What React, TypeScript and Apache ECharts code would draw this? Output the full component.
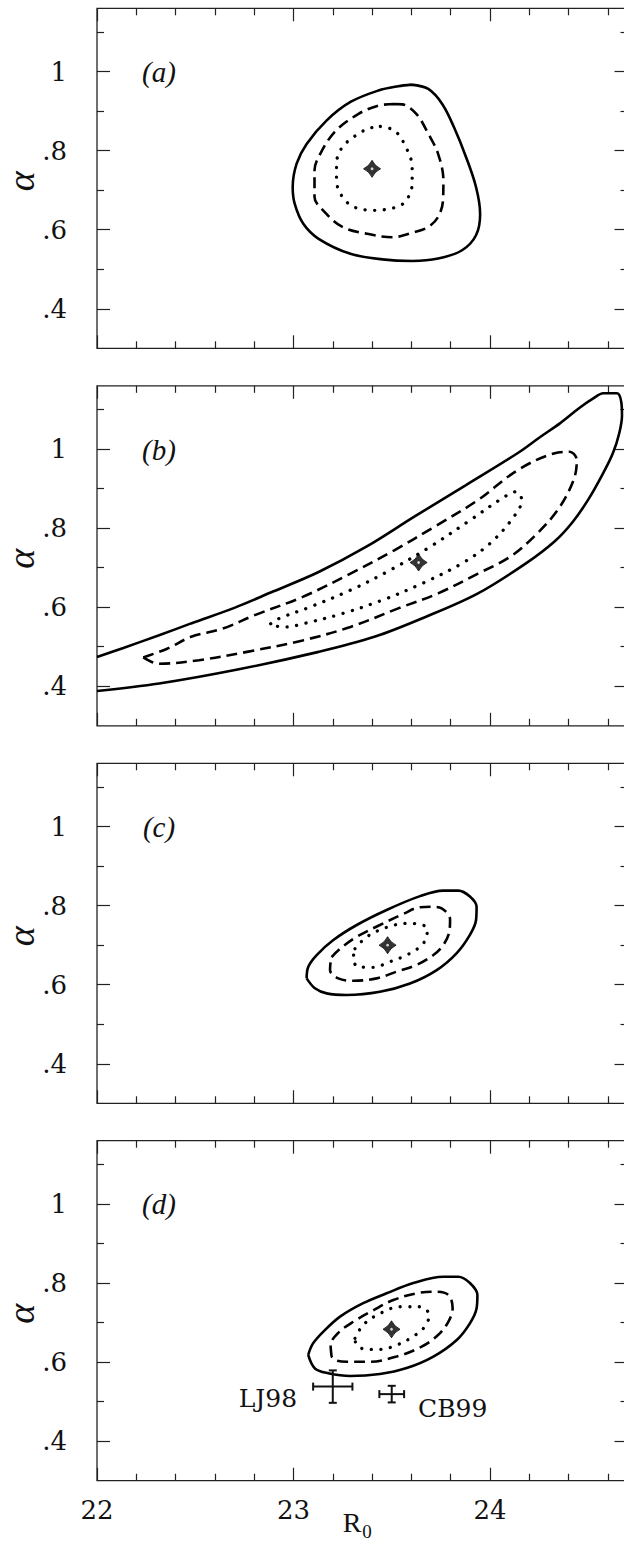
import React, { useEffect, useRef } from "react";
import * as echarts from "echarts";

// Axis ranges and tick positions shared by the four panels
const X_MIN = 22;
const X_MAX = 24.7;
const Y_MIN = 0.3;
const Y_MAX = 1.16;
const xMajorTicks = [22, 23, 24];
const xMinorTicks = [22.2, 22.4, 22.6, 22.8, 23.2, 23.4, 23.6, 23.8, 24.2, 24.4, 24.6];
const yMajorTicks = [0.4, 0.6, 0.8, 1.0];
const yMinorTicks = [0.5, 0.7, 0.9, 1.1];

const panelTags = ["(a)", "(b)", "(c)", "(d)"];

// Best-fit (R0, alpha) in each panel
const bestR0 = [23.4, 23.637, 23.479, 23.499];
const bestAlpha = [0.754, 0.713, 0.7, 0.683];

// Confidence contours, [R0, alpha] pairs, outer (solid), middle (dashed), inner (dotted)
const solidA = [
  [23.6, 0.967], [23.686, 0.956], [23.757, 0.918], [23.817, 0.859], [23.878, 0.784],
  [23.929, 0.708], [23.95, 0.64], [23.929, 0.586], [23.858, 0.548], [23.736, 0.527],
  [23.604, 0.521], [23.452, 0.525], [23.29, 0.539], [23.128, 0.577], [23.05, 0.615],
  [23.006, 0.666], [22.996, 0.708], [23.016, 0.767], [23.067, 0.817], [23.168, 0.876],
  [23.29, 0.923], [23.432, 0.952], [23.533, 0.963], [23.6, 0.967],
];
const dashedA = [
  [23.513, 0.918], [23.554, 0.917], [23.625, 0.893], [23.686, 0.843], [23.736, 0.792],
  [23.763, 0.725], [23.761, 0.674], [23.736, 0.632], [23.686, 0.607], [23.615, 0.594],
  [23.503, 0.581], [23.371, 0.59], [23.249, 0.607], [23.158, 0.645], [23.107, 0.683],
  [23.107, 0.75], [23.128, 0.784], [23.209, 0.847], [23.331, 0.893], [23.432, 0.914],
  [23.513, 0.918],
];
const dottedA = [
  [23.442, 0.861], [23.513, 0.851], [23.564, 0.817], [23.604, 0.758], [23.604, 0.716],
  [23.574, 0.674], [23.523, 0.657], [23.412, 0.649], [23.31, 0.657], [23.249, 0.683],
  [23.219, 0.725], [23.219, 0.767], [23.249, 0.809], [23.331, 0.843], [23.39, 0.857],
  [23.442, 0.861],
];

const solidB = [
  [22.0, 0.474], [22.134, 0.497], [22.316, 0.529], [22.479, 0.559], [22.702, 0.599],
  [22.884, 0.637], [23.128, 0.689], [23.371, 0.753], [23.615, 0.829], [23.878, 0.909],
  [24.142, 0.99], [24.254, 1.03], [24.356, 1.065], [24.458, 1.105], [24.526, 1.128],
  [24.577, 1.141], [24.646, 1.141], [24.668, 1.12], [24.672, 1.085], [24.658, 1.04],
  [24.626, 0.99], [24.575, 0.938], [24.5, 0.872], [24.42, 0.815], [24.33, 0.767],
  [24.183, 0.711], [23.939, 0.635], [23.675, 0.576], [23.412, 0.525], [23.128, 0.487],
  [22.722, 0.443], [22.316, 0.407], [22.0, 0.388],
];
const dashedB = [
  [22.235, 0.473], [22.357, 0.495], [22.479, 0.525], [22.641, 0.546], [22.803, 0.58],
  [23.047, 0.626], [23.29, 0.685], [23.513, 0.744], [23.716, 0.803], [23.939, 0.871],
  [24.142, 0.947], [24.325, 0.989], [24.406, 0.993], [24.442, 0.972], [24.426, 0.922],
  [24.345, 0.846], [24.223, 0.778], [24.101, 0.727], [23.939, 0.685], [23.736, 0.635],
  [23.533, 0.597], [23.29, 0.55], [23.047, 0.516], [22.763, 0.487], [22.519, 0.466],
  [22.316, 0.457], [22.276, 0.462], [22.235, 0.473],
];
const dottedB = [
  [22.884, 0.558], [22.925, 0.571], [23.087, 0.601], [23.29, 0.643], [23.493, 0.694],
  [23.696, 0.753], [23.899, 0.82], [24.061, 0.875], [24.132, 0.892], [24.162, 0.871],
  [24.122, 0.829], [24.0, 0.761], [23.858, 0.711], [23.655, 0.66], [23.453, 0.618],
  [23.25, 0.584], [23.047, 0.558], [22.966, 0.55], [22.915, 0.552], [22.884, 0.558],
];

const solidC = [
  [23.067, 0.616], [23.075, 0.645], [23.118, 0.675], [23.203, 0.713], [23.322, 0.751],
  [23.474, 0.789], [23.644, 0.824], [23.762, 0.838], [23.839, 0.838], [23.898, 0.823],
  [23.932, 0.797], [23.929, 0.763], [23.898, 0.726], [23.831, 0.68], [23.729, 0.637],
  [23.593, 0.603], [23.44, 0.582], [23.271, 0.574], [23.169, 0.578], [23.109, 0.591],
  [23.067, 0.616],
];
const dashedC = [
  [23.194, 0.67], [23.237, 0.691], [23.322, 0.721], [23.44, 0.751], [23.559, 0.779],
  [23.644, 0.796], [23.703, 0.797], [23.754, 0.793], [23.797, 0.765], [23.793, 0.734],
  [23.762, 0.7], [23.712, 0.675], [23.627, 0.65], [23.525, 0.633], [23.423, 0.616],
  [23.304, 0.61], [23.228, 0.616], [23.186, 0.637], [23.189, 0.658], [23.194, 0.67],
];
const dottedC = [
  [23.313, 0.691], [23.373, 0.721], [23.474, 0.745], [23.576, 0.755], [23.635, 0.753],
  [23.681, 0.743], [23.678, 0.721], [23.644, 0.696], [23.576, 0.675], [23.491, 0.658],
  [23.406, 0.644], [23.33, 0.645], [23.304, 0.666], [23.313, 0.691],
];

const solidD = [
  [23.075, 0.618], [23.098, 0.646], [23.152, 0.677], [23.237, 0.715], [23.355, 0.749],
  [23.474, 0.774], [23.61, 0.8], [23.762, 0.816], [23.839, 0.816], [23.898, 0.8],
  [23.936, 0.77], [23.932, 0.736], [23.898, 0.698], [23.831, 0.656], [23.712, 0.614],
  [23.576, 0.585], [23.44, 0.57], [23.288, 0.565], [23.177, 0.572], [23.109, 0.584],
  [23.075, 0.618],
];
const dashedD = [
  [23.194, 0.614], [23.189, 0.643], [23.228, 0.674], [23.304, 0.702], [23.406, 0.731],
  [23.508, 0.757], [23.627, 0.774], [23.712, 0.778], [23.788, 0.77], [23.81, 0.736],
  [23.788, 0.702], [23.737, 0.669], [23.652, 0.639], [23.525, 0.614], [23.389, 0.601],
  [23.271, 0.601], [23.211, 0.605], [23.194, 0.614],
];
const dottedD = [
  [23.313, 0.66], [23.355, 0.694], [23.44, 0.723], [23.542, 0.74], [23.644, 0.74],
  [23.691, 0.719], [23.669, 0.69], [23.61, 0.665], [23.525, 0.643], [23.44, 0.632],
  [23.372, 0.632], [23.322, 0.643], [23.313, 0.66],
];

// Literature values shown in panel (d): R0 ± err, alpha ± err
const refNames = ["LJ98", "CB99"];
const refR0 = [23.2, 23.5];
const refR0Err = [0.1, 0.063];
const refAlpha = [0.538, 0.519];
const refAlphaErr = [0.041, 0.021];

const contours = [
  [solidA, dashedA, dottedA],
  [solidB, dashedB, dottedB],
  [solidC, dashedC, dottedC],
  [solidD, dashedD, dottedD],
];

// Layout
const PANEL_TOPS = [8.3, 385.8, 763.3, 1140.7];
const PANEL_H = 340;
const PLOT_LEFT = 97;
const PLOT_W = 530.5;
const SERIF = '"DejaVu Serif", "Liberation Serif", serif';
const ROMAN = '"Liberation Serif", "DejaVu Serif", serif';
const INK = "#111";

const STAR_PATH =
  "path://M0,-10 Q3.2,-3.2 10,0 Q3.2,3.2 0,10 Q-3.2,3.2 -10,0 Q-3.2,-3.2 0,-10 Z";

const lineStyles = [
  { type: "solid", width: 2.6, color: "#000" },
  { type: [11, 6], width: 2.6, color: "#000" },
  { type: [0.1, 9.5], width: 3.3, color: "#000", cap: "round" },
];

function tickAxis(kind: "x" | "y", grid: number, position: string, values: number[], length: number, labels: boolean) {
  const base: any = {
    type: "value",
    gridIndex: grid,
    position,
    min: kind === "x" ? X_MIN : Y_MIN,
    max: kind === "x" ? X_MAX : Y_MAX,
    axisLine: { show: false, onZero: false },
    splitLine: { show: false },
    axisTick: {
      show: true,
      inside: true,
      length,
      customValues: values,
      lineStyle: { color: "#222", width: 1.2 },
    },
    axisLabel: { show: false },
  };
  if (labels && kind === "x") {
    base.axisLabel = {
      show: true,
      customValues: xMajorTicks,
      margin: 29,
      verticalAlign: "middle",
      fontFamily: SERIF,
      fontSize: 26,
      color: INK,
      formatter: (v: number) => String(v),
    };
  }
  if (labels && kind === "y") {
    base.axisLabel = {
      show: true,
      customValues: yMajorTicks,
      margin: 30,
      align: "right",
      verticalAlign: "middle",
      fontFamily: SERIF,
      fontSize: 26,
      color: INK,
      formatter: (v: number) => (v === 1 ? "1" : String(v).replace(/^0\./, ".")),
    };
  }
  return base;
}

function buildOption() {
  const grids: any[] = [];
  const xAxes: any[] = [];
  const yAxes: any[] = [];
  const series: any[] = [];
  const graphics: any[] = [];

  PANEL_TOPS.forEach((top, g) => {
    grids.push({
      left: PLOT_LEFT,
      top,
      width: PLOT_W,
      height: PANEL_H,
      show: true,
      borderColor: "#222",
      borderWidth: 1.3,
      backgroundColor: "transparent",
      outerBoundsMode: "none",
    });
    const last = g === PANEL_TOPS.length - 1;
    xAxes.push(tickAxis("x", g, "bottom", xMajorTicks, 13, last));
    xAxes.push(tickAxis("x", g, "bottom", xMinorTicks, 7, false));
    xAxes.push(tickAxis("x", g, "top", xMajorTicks, 13, false));
    xAxes.push(tickAxis("x", g, "top", xMinorTicks, 7, false));
    yAxes.push(tickAxis("y", g, "left", yMajorTicks, 13, true));
    yAxes.push(tickAxis("y", g, "left", yMinorTicks, 7, false));
    yAxes.push(tickAxis("y", g, "right", yMajorTicks, 13, false));
    yAxes.push(tickAxis("y", g, "right", yMinorTicks, 7, false));

    contours[g].forEach((pts, k) => {
      series.push({
        type: "line",
        xAxisIndex: 4 * g,
        yAxisIndex: 4 * g,
        data: pts,
        showSymbol: false,
        smooth: 0.35,
        clip: true,
        lineStyle: lineStyles[k],
        silent: true,
      });
    });

    series.push({
      type: "scatter",
      xAxisIndex: 4 * g,
      yAxisIndex: 4 * g,
      data: [[bestR0[g], bestAlpha[g]]],
      symbol: STAR_PATH,
      symbolSize: 17,
      itemStyle: { color: "#000", borderColor: "#000", borderWidth: 1 },
      silent: true,
      z: 5,
    });
    series.push({
      type: "scatter",
      xAxisIndex: 4 * g,
      yAxisIndex: 4 * g,
      data: [[bestR0[g], bestAlpha[g]]],
      symbol: "circle",
      symbolSize: 2.8,
      itemStyle: { color: "#fff" },
      silent: true,
      z: 6,
    });

    graphics.push({
      type: "text",
      x: 159,
      y: top + 63.7,
      style: {
        text: panelTags[g],
        font: `italic 29px ${ROMAN}`,
        fill: INK,
        textAlign: "center",
        textVerticalAlign: "middle",
      },
    });
    graphics.push({
      type: "text",
      x: 21,
      y: top + PANEL_H / 2 + 3,
      rotation: Math.PI / 2,
      style: {
        text: "α",
        font: `italic 38px ${ROMAN}`,
        fill: INK,
        textAlign: "center",
        textVerticalAlign: "middle",
      },
    });
  });

  // Literature points with error bars in panel (d)
  const dGrid = PANEL_TOPS.length - 1;
  series.push({
    type: "custom",
    xAxisIndex: 4 * dGrid,
    yAxisIndex: 4 * dGrid,
    data: refNames.map((_, i) => [refR0[i], refAlpha[i], refR0Err[i], refAlphaErr[i]]),
    silent: true,
    z: 4,
    renderItem: (params: any, api: any) => {
      const r = api.value(0);
      const a = api.value(1);
      const er = api.value(2);
      const ea = api.value(3);
      const c = api.coord([r, a]);
      const lx = api.coord([r - er, a])[0];
      const rx = api.coord([r + er, a])[0];
      const ty = api.coord([r, a + ea])[1];
      const by = api.coord([r, a - ea])[1];
      const cap = 4;
      const st = { stroke: INK, lineWidth: 2 };
      const onLeft = params.dataIndex === 0;
      return {
        type: "group",
        children: [
          { type: "line", shape: { x1: lx, y1: c[1], x2: rx, y2: c[1] }, style: st },
          { type: "line", shape: { x1: c[0], y1: ty, x2: c[0], y2: by }, style: st },
          { type: "line", shape: { x1: lx, y1: c[1] - cap, x2: lx, y2: c[1] + cap }, style: st },
          { type: "line", shape: { x1: rx, y1: c[1] - cap, x2: rx, y2: c[1] + cap }, style: st },
          { type: "line", shape: { x1: c[0] - cap, y1: ty, x2: c[0] + cap, y2: ty }, style: st },
          { type: "line", shape: { x1: c[0] - cap, y1: by, x2: c[0] + cap, y2: by }, style: st },
          {
            type: "text",
            x: onLeft ? lx - 16 : rx + 14,
            y: c[1] + (onLeft ? 12 : 14.5),
            style: {
              text: refNames[params.dataIndex],
              font: `25px ${SERIF}`,
              fill: INK,
              textAlign: onLeft ? "right" : "left",
              textVerticalAlign: "middle",
            },
          },
        ],
      };
    },
  });

  // x-axis title R0 under the last panel
  const base = PANEL_TOPS[dGrid] + PANEL_H;
  graphics.push({
    type: "text",
    x: 352,
    y: base + 41.5,
    style: { text: "R", font: `28px ${ROMAN}`, fill: INK, textAlign: "center", textVerticalAlign: "middle" },
  });
  graphics.push({
    type: "text",
    x: 367,
    y: base + 50.5,
    style: { text: "0", font: `19px ${ROMAN}`, fill: INK, textAlign: "center", textVerticalAlign: "middle" },
  });

  return {
    animation: false,
    backgroundColor: "#fff",
    grid: grids,
    xAxis: xAxes,
    yAxis: yAxes,
    series,
    graphic: { elements: graphics },
  };
}

export default function App() {
  const ref = useRef<HTMLDivElement>(null);
  useEffect(() => {
    if (!ref.current) return;
    const chart = echarts.init(ref.current, undefined, { renderer: "svg" });
    chart.setOption(buildOption() as any);
    return () => chart.dispose();
  }, []);
  return (
    <div
      ref={ref}
      style={{ position: "absolute", left: 0, top: 0, width: 624, height: 1543, background: "#fff" }}
    />
  );
}
